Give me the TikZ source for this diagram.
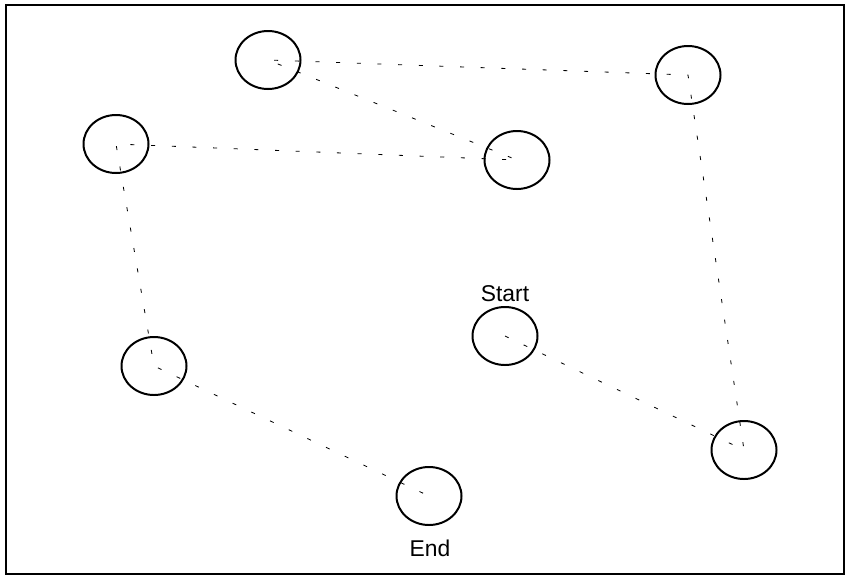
\documentclass[tikz,border=0pt]{standalone}
\usepackage{fontspec}
\setmainfont{Liberation Sans}
\usepackage{tikz}
\usetikzlibrary{shapes.geometric}

\tikzset{
  stop/.style={draw, ellipse, line width=1.7pt, inner sep=0pt,
    minimum width=1.95cm, minimum height=1.74cm},
  leg/.style={line width=0.7pt, dash pattern=on 0.12cm off 0.5cm},
  tag/.style={font=\fontsize{19.5}{23}\selectfont}
}

\begin{document}
\begin{tikzpicture}[x=0.03cm, y=-0.03cm]
  \useasboundingbox (0,0) rectangle (847,578);
  \draw[line width=2.2pt] (6,5) rectangle (844,574);
  % the stops
  \node[stop] (a) at (268,60) {};
  \node[stop] (b) at (688,75) {};
  \node[stop] (c) at (116,144) {};
  \node[stop] (d) at (517,160) {};
  \node[stop] (s) at (505,336) {};
  \node[stop] (f) at (154,366) {};
  \node[stop] (g) at (744,450) {};
  \node[stop] (e) at (429,496) {};
  \node[tag] (start) at (505,294) {Start};
  \node[tag] (end) at (430,548) {End};
  % the tour
  \draw[leg] (s.center) -- (g.center) -- (b.center) -- (a.center)
    -- (d.center) -- (c.center) -- (f.center) -- (e.center);
\end{tikzpicture}
\end{document}
